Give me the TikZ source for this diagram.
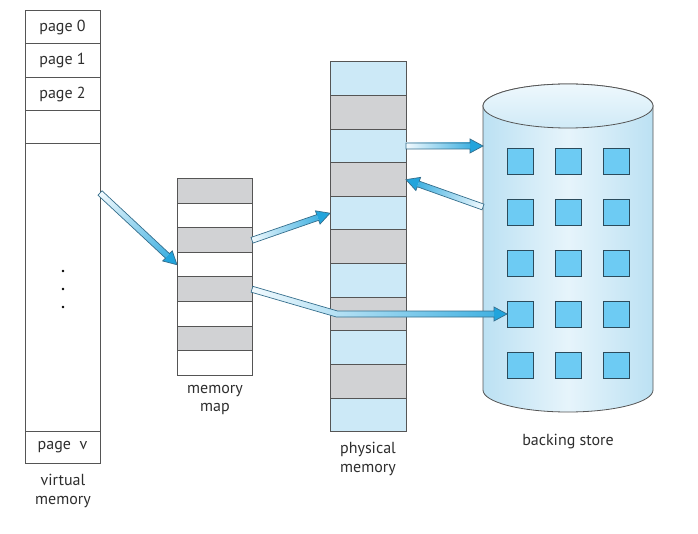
\documentclass[tikz,border=0pt]{standalone}
\usepackage{fontspec}
\setmainfont{PT Sans}
\usetikzlibrary{calc}
\definecolor{outl}{HTML}{555555}
\definecolor{cellgray}{HTML}{D1D2D4}
\definecolor{cellblue}{HTML}{CCE9F7}
\definecolor{sqfill}{HTML}{6DCBF3}
\definecolor{sqline}{HTML}{2B4B5C}
\definecolor{cylside}{HTML}{BCE1F3}
\definecolor{cylmid}{HTML}{E6F4FB}
\definecolor{cyltop}{HTML}{EEF8FD}
\definecolor{arrlight}{HTML}{F2FAFE}
\definecolor{arrcyan}{HTML}{22A4DC}
\definecolor{arrline}{HTML}{356E8C}
\definecolor{txt}{HTML}{2E2E2E}
\newcommand\fatarrow[2]{%
  \path let \p1=(#1), \p2=(#2) in \pgfextra{%
    \pgfmathsetmacro\faang{atan2(\y2-\y1,\x2-\x1)}%
    \pgfmathsetmacro\falen{veclen(\x2-\x1,\y2-\y1)}%
    \pgfmathsetmacro\fab{\falen-13}%
    \xdef\faangg{\faang}\xdef\falenn{\falen}\xdef\fabb{\fab}%
    \xdef\fax{\x1}\xdef\fay{\y1}};
  \begin{scope}[transform canvas={shift={(\fax,\fay)},rotate=\faangg}]
    \shade[left color=arrlight,right color=arrcyan!85] (0pt,-3pt) rectangle (\fabb pt,3pt);
    \fill[arrcyan] (\fabb pt,-7pt) -- (\falenn pt,0pt) -- (\fabb pt,7pt) -- cycle;
    \draw[arrline,line width=0.7pt,line join=miter] (0pt,-3pt) -- (\fabb pt,-3pt) -- (\fabb pt,-7pt) -- (\falenn pt,0pt) -- (\fabb pt,7pt) -- (\fabb pt,3pt) -- (0pt,3pt) -- cycle;
  \end{scope}}
\begin{document}
\begin{tikzpicture}[x=1pt,y=-1pt,
  cell/.style={draw=outl,line width=1pt,inner sep=0pt,outer sep=0pt,anchor=north west,
    font=\fontsize{16}{16}\selectfont,text=txt},
  vcell/.style={cell,minimum width=75pt},
  mcell/.style={cell,minimum width=75pt,minimum height=24.5pt},
  pcell/.style={cell,minimum width=76pt,minimum height=33.6pt},
  sq/.style={draw=sqline,line width=0.9pt,fill=sqfill,minimum size=26pt,inner sep=0pt,outer sep=0pt},
  lbl/.style={align=center,font=\fontsize{16}{18.5}\selectfont,text=txt,inner sep=0pt}]
\useasboundingbox (0,0) rectangle (698,534);
\fill[white] (0,0) rectangle (698,534);

% virtual memory
\node[vcell,minimum height=33pt] (v0) at (25,11) {page 0};
\node[vcell,minimum height=34pt] (v1) at (25,44) {page 1};
\node[vcell,minimum height=33pt] (v2) at (25,78) {page 2};
\node[vcell,minimum height=33pt] (v3) at (25,111) {};
\node[vcell,minimum height=287pt] (vbig) at (25,144) {};
\node[vcell,minimum height=32pt] (vv) at (25,431) {page\ \ v};
\foreach \yy in {271,289,307} \fill[black] (63,\yy) circle (1.3);
\node[lbl] (vlab) at (63,491) {virtual\\memory};

% memory map
\foreach \i/\c in {1/cellgray,2/white,3/cellgray,4/white,5/cellgray,6/white,7/cellgray,8/white}
  \node[mcell,fill=\c] (mm\i) at (177,{179+24.5*(\i-1)}) {};
\node[lbl] (mlab) at (215,400) {memory\\map};

% physical memory
\foreach \i/\c in {1/cellblue,2/cellgray,3/cellblue,4/cellgray,5/cellblue,6/cellgray,7/cellblue,8/cellgray,9/cellblue,10/cellgray,11/cellblue}
  \node[pcell,fill=\c] (pm\i) at (330,{62+33.6*(\i-1)}) {};
\node[lbl] (plab) at (368,459) {physical\\memory};

% backing store
\shade[left color=cylside,right color=cylside,middle color=cylmid,draw=outl,line width=0.8pt]
  (483,106) -- (483,390) arc[start angle=180,end angle=0,x radius=85,y radius=22]
  -- (653,106) arc[start angle=0,end angle=-180,x radius=85,y radius=22] -- cycle;
\shade[top color=cyltop,bottom color=cylside!70,draw=outl,line width=0.8pt]
  (568,106) ellipse[x radius=85,y radius=22];
\node[minimum width=170pt,minimum height=284pt,inner sep=0pt,outer sep=0pt] (bs) at (568,248) {};
\foreach \r in {1,...,5}
  \foreach \c in {1,2,3}
    \node[sq] (sq\r\c) at ({472+48*\c},{110+51*\r}) {};
\node[lbl] (blab) at (568,442) {backing store};

% arrows
\coordinate (a1s) at ($(vbig.north east)+(0,49)$);
\fatarrow{a1s}{mm4.west}
\fatarrow{mm3.east}{pm5.west}
\coordinate (a4e) at (bs.west |- pm3.east);
\fatarrow{pm3.east}{a4e}
\coordinate (a5s) at ($(bs.north west)+(0,101)$);
\fatarrow{a5s}{pm4.east}

% bent arrow from memory map to backing store
\coordinate (b3s) at (mm5.east);
\coordinate (b3e) at (sq41.west);
\coordinate (b3m) at ($(b3e)+(-170,0)$);
\shade[left color=arrlight,right color=arrcyan!85]
  ($(b3s)+(0.9,-2.9)$) -- ($(b3m)+(0.6,-3)$) -- ($(b3e)+(-13,-3)$) -- ($(b3e)+(-13,3)$)
  -- ($(b3m)+(-0.6,3)$) -- ($(b3s)+(-0.9,2.9)$) -- cycle;
\fill[arrcyan] ($(b3e)+(-13,-7)$) -- (b3e) -- ($(b3e)+(-13,7)$) -- cycle;
\draw[arrline,line width=0.7pt]
  ($(b3s)+(0.9,-2.9)$) -- ($(b3m)+(0.6,-3)$) -- ($(b3e)+(-13,-3)$) -- ($(b3e)+(-13,-7)$)
  -- (b3e) -- ($(b3e)+(-13,7)$) -- ($(b3e)+(-13,3)$)
  -- ($(b3m)+(-0.6,3)$) -- ($(b3s)+(-0.9,2.9)$) -- cycle;
\end{tikzpicture}
\end{document}
